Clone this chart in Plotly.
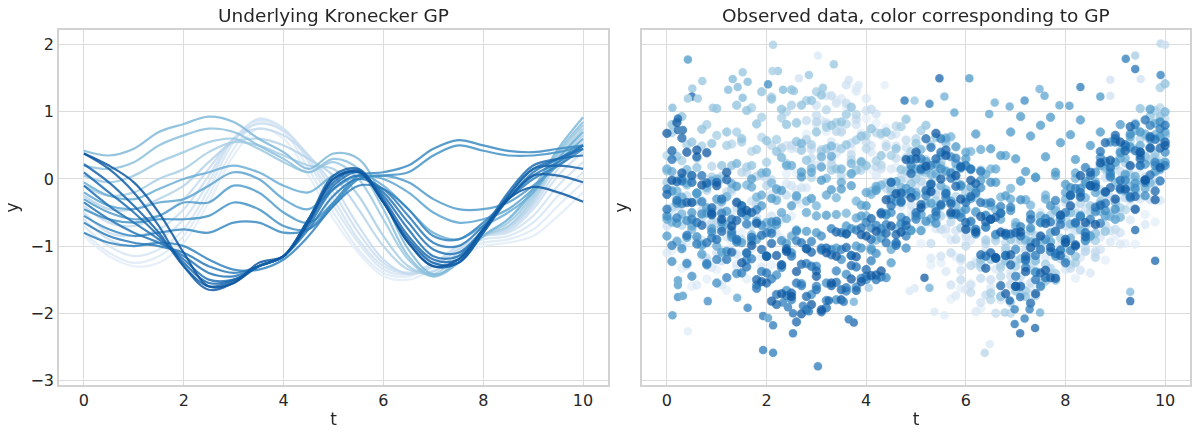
import plotly.graph_objects as go
from plotly.colors import make_colorscale, sample_colorscale, sequential

# ---------------- data ----------------
t_knots = [0.0, 0.5, 1.0, 1.5, 2.0, 2.5, 3.0, 3.5, 4.0, 4.5, 5.0,
           5.5, 6.0, 6.5, 7.0, 7.5, 8.0, 8.5, 9.0, 9.5, 10.0]

c00 = [-0.85,-1.15,-1.3,-1.25,-0.95,-0.35,0.35,0.75,0.6,0.05,-0.6,-1.1,-1.45,-1.5,-1.35,-1.15,-1.0,-0.95,-0.85,-0.55,-0.2]
c01 = [-0.8,-1.1,-1.25,-1.15,-0.85,-0.25,0.45,0.85,0.7,0.15,-0.5,-1.05,-1.4,-1.45,-1.3,-1.1,-0.95,-0.9,-0.75,-0.4,-0.05]
c02 = [-0.7,-1.0,-1.15,-1.05,-0.75,-0.15,0.55,0.9,0.75,0.25,-0.4,-0.95,-1.35,-1.42,-1.25,-1.05,-0.9,-0.85,-0.65,-0.25,0.1]
c03 = [-0.6,-0.9,-1.0,-0.9,-0.6,-0.05,0.6,0.88,0.75,0.3,-0.3,-0.9,-1.3,-1.4,-1.25,-1.0,-0.85,-0.8,-0.55,-0.1,0.25]
c04 = [-0.5,-0.8,-0.85,-0.75,-0.45,0.05,0.6,0.82,0.72,0.35,-0.2,-0.8,-1.25,-1.4,-1.28,-1.0,-0.85,-0.78,-0.45,0.05,0.4]
c05 = [-0.4,-0.65,-0.7,-0.55,-0.3,0.15,0.6,0.75,0.65,0.35,-0.1,-0.7,-1.2,-1.42,-1.3,-1.05,-0.85,-0.75,-0.4,0.15,0.55]
c06 = [-0.25,-0.45,-0.45,-0.3,-0.1,0.25,0.55,0.6,0.5,0.3,0.05,-0.45,-1.0,-1.35,-1.38,-1.1,-0.85,-0.72,-0.35,0.25,0.65]
c07 = [-0.1,-0.25,-0.2,0.0,0.15,0.4,0.55,0.5,0.35,0.2,0.15,-0.25,-0.85,-1.3,-1.42,-1.15,-0.85,-0.7,-0.3,0.3,0.75]
c08 = [0.05,-0.05,0.05,0.25,0.4,0.55,0.6,0.45,0.25,0.1,0.25,0.0,-0.6,-1.2,-1.45,-1.2,-0.85,-0.65,-0.25,0.35,0.8]
c09 = [0.2,0.15,0.25,0.5,0.65,0.75,0.7,0.5,0.3,0.1,0.3,0.15,-0.45,-1.15,-1.45,-1.25,-0.85,-0.6,-0.2,0.4,0.85]
c10 = [0.42,0.35,0.45,0.7,0.82,0.93,0.85,0.6,0.4,0.15,0.38,0.3,-0.3,-1.05,-1.42,-1.25,-0.85,-0.6,-0.15,0.45,0.92]
c11 = [-0.05,-0.25,-0.3,-0.15,0.0,0.1,0.2,0.1,-0.1,-0.2,0.05,0.1,-0.1,-0.45,-0.8,-0.9,-0.7,-0.5,-0.2,0.3,0.7]
c12 = [-0.2,-0.4,-0.45,-0.35,-0.3,-0.1,0.1,0.0,-0.3,-0.45,-0.15,0.05,0.0,-0.2,-0.5,-0.65,-0.6,-0.45,-0.15,0.25,0.6]
c13 = [-0.3,-0.5,-0.6,-0.55,-0.35,-0.35,-0.1,-0.2,-0.5,-0.65,-0.35,0.0,0.05,-0.05,-0.3,-0.45,-0.45,-0.35,-0.1,0.2,0.5]
c14 = [-0.45,-0.6,-0.65,-0.6,-0.6,-0.55,-0.35,-0.45,-0.7,-0.75,-0.4,0.0,0.05,0.1,0.35,0.5,0.42,0.35,0.35,0.4,0.5]
c15 = [-0.55,-0.75,-0.85,-0.8,-0.75,-0.8,-0.65,-0.65,-0.8,-0.75,-0.35,0.05,0.1,0.2,0.45,0.58,0.5,0.42,0.4,0.45,0.5]
c16 = [-0.8,-0.95,-1.0,-0.95,-1.0,-1.2,-1.35,-1.35,-1.2,-0.85,-0.4,-0.1,-0.15,-0.45,-0.85,-0.9,-0.65,-0.3,0.0,0.2,0.45]
c17 = [-0.65,-0.85,-0.95,-1.0,-1.1,-1.3,-1.4,-1.3,-1.15,-0.75,-0.25,0.0,-0.15,-0.55,-0.95,-1.0,-0.7,-0.3,0.05,0.25,0.5]
c18 = [-0.35,-0.6,-0.8,-0.95,-1.15,-1.4,-1.45,-1.3,-1.15,-0.7,-0.15,0.05,-0.2,-0.65,-1.05,-1.1,-0.75,-0.3,0.1,0.3,0.5]
c19 = [-0.1,-0.4,-0.65,-0.9,-1.2,-1.5,-1.5,-1.3,-1.15,-0.65,-0.1,0.1,-0.25,-0.75,-1.15,-1.15,-0.75,-0.25,0.15,0.3,0.45]
c20 = [0.1,-0.2,-0.5,-0.85,-1.25,-1.55,-1.5,-1.3,-1.15,-0.6,-0.05,0.12,-0.3,-0.85,-1.2,-1.2,-0.75,-0.2,0.2,0.3,0.35]
c21 = [0.22,-0.05,-0.4,-0.8,-1.3,-1.6,-1.52,-1.3,-1.15,-0.6,0.0,0.12,-0.35,-0.9,-1.25,-1.25,-0.8,-0.25,0.15,0.2,0.15]
c22 = [0.38,0.15,-0.2,-0.7,-1.3,-1.65,-1.55,-1.3,-1.15,-0.6,0.05,0.15,-0.35,-0.95,-1.3,-1.25,-0.8,-0.3,0.05,0.05,-0.05]
c23 = [0.38,0.2,-0.05,-0.5,-1.1,-1.6,-1.55,-1.25,-1.15,-0.65,0.0,0.1,-0.35,-0.95,-1.3,-1.2,-0.75,-0.3,-0.12,-0.2,-0.34]

line_shades = [0.10,0.13,0.16,0.19,0.22,0.25,0.30,0.34,0.38,0.42,0.45,0.50,
               0.54,0.58,0.62,0.65,0.68,0.71,0.73,0.75,0.77,0.80,0.82,0.85]

t_obs = [0.0,0.1,0.2,0.3,0.4,0.5,0.6,0.7,0.8,0.9,1.0,1.1,1.2,1.3,1.4,1.5,1.6,1.7,1.8,1.9,
         2.0,2.1,2.2,2.3,2.4,2.5,2.6,2.7,2.8,2.9,3.0,3.1,3.2,3.3,3.4,3.5,3.6,3.7,3.8,3.9,
         4.0,4.1,4.2,4.3,4.4,4.5,4.6,4.7,4.8,4.9,5.0,5.1,5.2,5.3,5.4,5.5,5.6,5.7,5.8,5.9,
         6.0,6.1,6.2,6.3,6.4,6.5,6.6,6.7,6.8,6.9,7.0,7.1,7.2,7.3,7.4,7.5,7.6,7.7,7.8,7.9,
         8.0,8.1,8.2,8.3,8.4,8.5,8.6,8.7,8.8,8.9,9.0,9.1,9.2,9.3,9.4,9.5,9.6,9.7,9.8,9.9,10.0]

obs_a = [-0.5,-1.06,-0.47,-1.33,-0.94,-1.6,-0.93,-1.16,-1.49,-0.82,
         -1.35,-0.68,-1.66,-0.94,-1.32,-0.8,-1.49,-0.98,-0.37,-1.16,
         -0.7,-1.28,-0.31,-0.54,0.08,-0.55,0.09,-0.37,0.67,0.21,
         0.8,0.28,0.71,0.19,1.17,0.7,1.07,0.44,1.36,0.68,
         0.9,0.14,0.83,0.17,0.76,-0.15,0.17,-0.66,0.06,-0.47,
         -0.1,-0.96,-0.67,-1.28,-0.39,-1.25,-0.82,-1.79,-1.16,-1.63,
         -0.95,-1.56,-1.22,-1.93,-1.09,-1.5,-0.92,-1.74,-1.21,-1.58,
         -1.0,-1.71,-1.17,-0.63,-1.34,-0.85,-1.47,-0.94,-1.11,-0.53,
         -1.25,-0.74,-1.48,-0.57,-1.06,-0.4,-1.12,-0.79,-1.21,-0.48,
         -0.85,-0.28,-0.96,-0.39,-0.97,0.15,-0.53,-0.01,-0.64,-0.02,
         0.25]
obs_j = [-1.1,-0.56,-0.32,-0.98,-1.24,-0.65,-1.58,-0.91,-0.69,-1.32,
         -0.9,-1.58,-1.06,-0.54,-1.27,-1.4,-0.69,-1.03,-0.42,-1.31,
         -0.65,-0.23,-0.81,-0.89,-0.07,0.45,-0.16,0.48,-0.13,0.46,
         0.2,0.87,1.24,0.56,0.38,1.2,0.97,0.54,1.31,0.63,
         1.2,0.4,0.05,0.65,0.7,0.15,0.67,-0.41,0.01,-0.57,
         -0.1,-0.71,-0.12,-1.18,-0.74,-0.55,-1.38,-0.91,-1.74,-1.22,
         -1.65,-0.91,-1.98,-1.24,-1.06,-1.62,-1.34,-1.8,-0.82,-1.38,
         -0.85,-1.56,-1.07,-1.63,-0.84,-0.5,-1.17,-1.39,-0.66,-0.98,
         -1.35,-0.69,-0.43,-1.17,-0.81,-1.4,-0.46,-0.87,-0.23,-0.94,
         -0.5,-0.97,0.06,-0.61,-0.03,-0.3,-0.68,0.29,0.06,-0.32,
         0.55]
obs_b = [-0.7,-0.16,-0.92,-0.58,-1.29,-0.55,-0.91,-0.32,-1.23,-0.69,
         -1.1,-0.48,-0.86,-0.19,-1.12,-0.55,-1.19,-0.33,-0.57,-0.81,
         0.0,-0.55,-0.15,-0.6,0.5,-0.1,0.46,-0.13,0.58,0.44,
         1.1,0.34,0.84,0.28,1.13,0.72,1.4,0.53,0.81,0.24,
         1.02,0.5,0.97,0.15,0.52,-0.2,0.49,0.03,0.47,-0.39,
         0.0,-0.77,-0.09,-0.61,-0.18,-1.15,-0.74,-1.58,-0.77,-1.36,
         -0.85,-1.58,-1.26,-1.84,-1.12,-1.5,-0.83,-1.75,-1.13,-1.45,
         -0.93,-1.72,-1.07,-1.36,-0.61,-1.05,-0.67,-1.39,-0.76,-1.18,
         -0.35,-1.04,-0.77,-1.36,-0.44,-0.88,-0.46,-1.05,0.02,-0.77,
         -0.35,-0.8,0.05,-0.3,0.45,-0.25,0.32,-0.31,0.61,0.28,
         0.65]
obs_m = [0.15,-0.65,-0.4,-1.0,-0.25,-0.05,-0.96,-0.47,-1.18,-0.64,
         -0.4,-1.22,-0.19,-0.71,-0.43,-0.9,0.1,-0.7,-0.35,0.05,
         -0.7,-0.01,-0.27,0.47,-0.24,0.5,-0.31,0.43,0.87,0.31,
         0.95,0.18,0.81,1.24,0.47,0.7,1.13,0.36,0.89,0.17,
         0.55,1.04,0.18,0.67,-0.14,0.65,0.31,-0.23,0.58,-0.21,
         0.35,-0.52,-0.19,-0.96,-0.23,-0.75,-0.25,-1.1,-0.9,-1.5,
         -1.0,-1.69,-0.79,-1.48,-1.73,-1.12,-2.0,-1.27,-0.95,-1.57,
         -0.8,-1.45,-0.95,-1.55,-1.05,-1.6,-0.66,-1.07,-0.48,-1.19,
         -0.7,-1.33,-0.51,-0.24,-1.02,-0.65,-1.08,-0.16,-0.69,-0.27,
         -0.75,0.11,-0.28,0.18,-0.46,0.7,0.03,0.61,-0.06,0.57,
         0.9]
obs_c = [0.35,-0.43,-0.01,-0.69,0.08,-0.35,0.31,-0.58,-0.17,0.19,
         -0.65,0.04,-0.27,0.52,-0.34,0.1,-0.52,0.41,0.04,0.62,
         -0.1,0.5,-0.15,0.45,1.0,0.2,0.83,0.11,0.59,0.02,
         0.85,0.44,1.03,0.22,0.71,0.05,0.82,0.29,0.96,0.13,
         0.45,-0.18,0.69,0.21,0.48,-0.2,0.79,-0.02,0.32,-0.19,
         0.6,-0.03,0.29,-0.64,0.03,-0.55,0.13,-0.64,-0.26,-1.18,
         -0.75,-1.29,-0.48,-1.32,-0.96,-1.8,-0.92,-1.45,-1.07,-2.0,
         -1.22,-1.62,-0.86,-1.31,-0.85,-1.55,-0.94,-1.33,-0.42,-1.06,
         -0.6,-1.27,-0.69,-0.36,-1.08,-0.5,-1.17,-0.24,-0.56,0.07,
         -0.6,-0.03,-0.46,0.56,-0.02,0.6,-0.06,0.58,0.32,1.06,
         0.65]
obs_k = [-0.05,0.69,-0.27,0.27,0.51,0.05,-0.33,0.49,0.81,0.03,
         0.65,0.0,0.5,-0.15,0.7,0.55,0.18,1.06,0.44,0.92,
         0.25,1.22,0.59,0.91,0.23,1.1,0.84,0.43,1.17,0.51,
         1.3,0.41,0.77,0.13,0.84,0.45,0.96,0.07,0.58,0.24,
         0.65,-0.19,0.27,0.68,-0.06,0.35,-0.21,0.78,0.12,0.41,
         0.0,0.72,0.09,0.51,-0.32,0.25,0.58,-0.34,-0.01,-0.73,
         -0.2,-0.74,-0.28,-1.27,-0.91,-1.7,-0.86,-1.32,-1.03,-1.84,
         -1.3,-0.91,-1.67,-1.13,-1.74,-0.9,-1.27,-0.54,-1.41,-0.88,
         -1.2,-0.5,-1.25,-0.25,-0.7,-0.4,-0.92,-0.34,0.14,-0.53,
         0.2,-0.43,0.24,0.06,0.83,-0.05,0.64,0.28,1.02,1.36,
         0.65]
obs_d = [0.12,0.81,0.34,0.93,-0.09,0.55,0.17,0.74,-0.09,0.53,
         1.05,0.2,0.7,0.2,1.1,0.6,1.02,0.2,0.82,1.3,
         0.57,1.19,0.41,1.04,0.81,1.33,0.56,1.1,0.28,1.17,
         0.7,1.25,0.45,0.8,0.15,0.85,0.51,1.07,0.13,0.64,
         0.2,0.75,-0.15,0.35,0.7,-0.15,0.45,0.14,0.89,-0.07,
         0.53,0.11,0.8,-0.17,0.62,0.2,0.53,-0.34,0.14,-0.48,
         0.2,-0.65,-0.5,-1.2,-0.55,-1.2,-0.82,-1.75,-1.22,-0.9,
         -1.67,-1.19,-1.75,-0.77,-1.38,-0.95,-1.52,-0.94,-1.51,-0.53,
         -0.9,-0.5,-1.15,-0.55,-0.9,-0.1,-0.81,-0.37,-0.78,0.11,
         -0.35,0.42,-0.01,0.46,-0.17,1.05,0.34,0.94,0.38,0.93,
         1.42]
obs_e = [0.15,-0.64,-0.18,-0.52,0.14,-0.75,-0.21,-0.97,-0.13,-0.54,
         0.0,-0.73,-0.26,-0.84,0.23,-0.5,-0.09,-0.83,-0.27,0.09,
         -0.65,-0.06,-0.32,0.32,-0.59,0.2,-0.26,0.53,-0.33,0.16,
         -0.4,0.33,0.01,0.49,-0.28,0.15,-0.51,0.23,-0.33,0.26,
         -0.55,-0.23,-0.91,-0.09,-0.52,-0.05,-0.74,-0.13,-0.77,0.14,
         -0.2,0.44,-0.37,0.07,-0.44,0.35,-0.16,0.63,-0.38,0.16,
         -0.3,0.41,-0.18,0.13,-0.71,0.15,-0.46,-0.27,-0.83,-0.14,
         -0.65,-0.03,-0.91,-0.39,-1.22,-0.55,-0.24,-0.93,-0.47,-1.06,
         -0.3,-0.67,0.01,-0.76,-0.28,-0.85,-0.04,-0.48,0.18,-0.56,
         -0.05,-0.57,0.31,-0.11,0.72,0.2,0.67,-0.06,0.66,0.23,
         1.0]
obs_n = [-0.6,0.11,-0.93,-0.27,-0.06,-0.7,-0.22,-0.99,-0.51,-0.03,
         -1.0,-0.34,-0.68,-0.07,-0.91,-0.45,-1.11,-0.12,-0.63,-0.24,
         0.1,-0.75,-0.15,-0.5,0.2,-0.85,-0.25,0.1,-0.5,0.1,
         -0.55,0.18,-0.24,0.34,-0.53,-0.05,-0.81,0.08,-0.58,-0.39,
         -0.2,-1.03,-0.11,-0.79,-0.52,-1.05,-0.04,-0.68,-0.22,-0.76,
         0.15,-0.53,0.14,-0.59,0.08,-0.1,0.61,-0.33,0.23,-0.51,
         0.4,-0.12,-0.49,0.44,0.07,-0.4,0.15,-0.6,0.35,-0.3,
         -0.7,-0.03,-0.31,-0.94,0.03,-0.65,-0.3,-0.8,0.05,-0.55,
         -0.2,-0.88,0.09,-0.54,-0.07,-0.85,-0.2,0.2,-0.55,0.05,
         -0.6,0.31,-0.18,0.63,0.04,0.5,-0.14,0.47,0.83,0.14,
         0.7]
obs_f = [-0.85,-0.18,-0.66,0.01,-0.87,-0.5,-0.21,-1.12,-0.43,-0.74,
         -0.3,-1.09,-0.48,-0.87,-0.11,-0.95,-0.55,0.0,-0.9,-0.4,
         -1.15,-0.29,-0.68,-0.17,-0.96,-0.4,-0.76,0.03,-0.78,-0.29,
         -0.8,-0.02,-0.54,-0.16,-1.03,-0.15,-0.7,-0.1,-1.0,-0.55,
         -0.4,-1.06,-0.17,-0.88,-0.54,-1.25,-0.33,-0.66,-0.14,-0.77,
         -0.25,-0.77,0.26,-0.36,0.22,-0.4,0.11,-0.53,0.48,-0.11,
         0.3,-0.29,0.67,-0.02,-0.36,0.45,-0.05,0.35,-0.25,0.7,
         0.3,0.93,0.11,0.64,0.02,0.8,0.33,0.92,0.1,0.54,
         -0.08,0.66,0.29,0.88,-0.04,0.5,0.1,0.7,-0.2,0.55,
         0.25,0.81,0.07,0.48,-0.06,0.7,0.22,1.04,0.11,0.63,
         0.25]
obs_g = [-0.55,-1.23,-0.36,-1.04,-0.62,-1.45,-0.86,-0.52,-1.28,-0.79,
         -1.55,-0.64,-1.08,-0.82,-1.41,-0.4,-1.21,-0.92,-1.58,-0.69,
         -1.15,-0.64,-1.43,-0.92,-1.66,-1.1,-0.78,-1.56,-1.04,-1.72,
         -1.3,-0.85,-1.55,-1.05,-1.8,-1.2,-1.42,-0.74,-1.61,-1.03,
         -1.5,-0.73,-1.11,-0.74,-1.47,-0.5,-0.96,-0.57,-1.03,-0.19,
         -0.55,0.16,-0.63,-0.07,-0.66,0.15,-0.21,0.33,-0.53,-0.09,
         -0.45,0.14,-0.82,-0.13,-0.54,-0.05,-0.83,-0.51,-1.14,-0.47,
         -1.05,-0.31,-1.22,-0.73,-1.39,-0.65,-0.9,-0.4,-1.15,-0.6,
         -0.95,-0.13,-0.66,-0.14,-0.92,-0.1,-0.49,0.32,-0.47,0.09,
         -0.45,0.39,-0.02,0.67,-0.14,0.4,-0.25,0.6,0.2,0.85,
         0.4]
obs_l = [-0.15,-0.99,-0.58,-0.37,-1.26,-0.6,-0.97,-0.34,-1.26,-0.88,
         -1.2,-0.51,-1.47,-0.78,-0.94,-1.4,-0.67,-1.19,-0.46,-1.38,
         -0.8,-1.49,-0.63,-1.32,-1.06,-1.8,-0.92,-1.59,-1.26,-0.93,
         -1.6,-1.03,-1.81,-0.74,-1.37,-1.05,-1.67,-1.14,-0.76,-1.48,
         -0.65,-1.22,-0.69,-1.46,-0.68,-0.3,-0.95,-0.35,-0.85,0.2,
         -0.6,0.3,-0.25,0.2,-0.55,0.6,-0.28,0.09,0.31,-0.57,
         0.2,-0.63,-0.21,0.11,-0.72,-0.35,-1.18,-0.41,-0.84,-0.42,
         -1.45,-0.71,-1.32,-0.53,-1.14,-1.6,-0.59,-1.08,-0.32,-1.06,
         -0.5,-1.07,-0.14,-0.56,0.17,-0.6,-0.08,-0.66,0.26,0.03,
         0.55,-0.16,0.48,-0.28,0.81,0.35,-0.05,0.8,0.25,0.75,
         0.2]
obs_h = [-0.45,0.29,-0.32,-0.03,-0.84,-0.05,-0.65,0.05,-0.95,-0.5,
         -0.9,-0.3,-1.2,-0.6,-0.9,-0.4,-1.31,-0.87,-1.63,-0.84,
         -1.4,-0.81,-1.72,-1.28,-1.74,-1.15,-1.55,-0.95,-1.95,-1.3,
         -1.65,-1.06,-1.92,-1.13,-1.54,-0.8,-1.62,-1.14,-1.31,-0.73,
         -1.45,-0.9,-1.5,-0.5,-0.95,-0.4,-0.99,-0.33,-0.62,0.29,
         -0.5,0.14,-0.17,0.47,-0.49,0.4,-0.22,0.01,-0.51,0.17,
         -0.35,0.15,-0.75,-0.35,-1.15,-0.6,-1.18,-0.51,-1.14,-0.82,
         -1.6,-0.85,-1.2,-0.6,-1.5,-1.05,-1.47,-0.64,-1.11,-0.68,
         -1.25,-0.25,-0.65,-0.2,-0.8,0.05,-0.42,0.41,-0.36,0.17,
         0.6,-0.02,0.51,-0.26,0.42,0.2,0.88,0.06,0.59,-0.03,
         0.8]
obs_o = [-0.23,0.42,-0.04,0.61,-0.35,0.05,0.33,-0.69,-0.06,-0.43,
         -0.05,-0.78,-0.01,-1.09,-0.62,-0.5,-1.1,-0.5,-1.5,-1.05,
         -1.55,-0.96,-1.87,-1.28,-1.04,-1.7,-2.13,-1.27,-1.75,-1.09,
         -1.37,-1.98,-1.03,-1.59,-0.79,-1.65,-1.02,-1.29,-1.66,-0.83,
         -1.35,-0.59,-1.43,-0.52,-0.81,-0.05,-0.83,-0.21,-0.69,0.08,
         0.3,-0.38,0.6,-0.08,0.3,-0.38,0.43,-0.37,-0.11,0.19,
         -0.65,-0.26,-0.07,-1.13,-0.64,-1.1,-0.57,-1.59,-0.81,-1.28,
         -0.8,-1.6,-1.15,-1.85,-0.95,-1.4,-0.66,-1.47,-0.78,-1.14,
         -0.9,-0.24,-0.98,-0.27,-0.86,0.1,-0.12,-0.39,0.54,-0.13,
         0.65,-0.14,0.42,0.78,-0.26,0.3,-0.01,0.63,-0.18,0.46,
         0.55]
obs_i = [0.68,-0.02,0.84,0.09,0.4,-0.35,0.43,-0.09,0.39,-0.53,
         -0.1,-0.6,0.1,-0.7,-0.35,-1.25,-0.47,-0.99,-0.66,-1.53,
         -1.15,-1.82,-1.14,-1.71,-1.08,-1.75,-1.38,-2.01,-1.04,-1.87,
         -1.45,-1.95,-1.1,-1.55,-1.15,-1.8,-0.82,-1.49,-1.16,-1.53,
         -0.85,-1.44,-0.78,-1.37,-0.31,-0.7,-0.22,-0.79,0.29,-0.28,
         0.4,-0.43,0.19,-0.19,0.68,0.0,0.35,-0.5,0.05,-0.3,
         -0.75,-0.02,-0.79,-0.56,-1.33,-0.6,-1.17,-0.79,-1.71,-1.13,
         -1.6,-0.79,-1.38,-1.02,-1.71,-0.85,-1.36,-1.02,-1.48,-0.54,
         -0.95,-0.4,-1.0,0.05,-0.65,-0.1,-0.68,0.24,-0.19,0.28,
         -0.3,0.55,-0.15,0.2,-0.45,0.4,-0.02,0.46,-0.31,0.17,
         0.5]
obs_shades = [0.10, 0.15, 0.20, 0.26, 0.30, 0.36, 0.42, 0.48, 0.54, 0.60,
              0.65, 0.70, 0.75, 0.80, 0.85]

# individually read points (outliers and envelope)
extra_t = [0.42,2.13,3.03,3.35,2.12,2.23,1.52,0.71,0.51,1.32,1.62,2.03,0.5,0.42,0.62,0.11,0.92,
           1.23,1.42,1.52,2.65,2.85,3.65,3.85,4.37,2.33,2.55,3.13,4.77,4.97,0.22,0.22,0.32,
           9.91,10.0,9.21,9.4,9.4,9.51,8.9,8.9,9.91,5.47,6.07,5.57,5.27,5.77,6.47,6.58,6.88,
           7.18,7.48,7.58,7.88,8.08,8.3,8.7,
           0.11,0.42,1.93,2.03,2.13,2.53,1.93,2.13,3.03,3.65,3.75,1.62,0.82,1.41,0.22,0.32,
           2.33,2.43,2.53,2.73,2.85,3.25,3.55,3.75,4.05,4.87,4.97,0.22,0.22,
           6.38,6.48,7.09,6.98,7.18,7.39,6.98,7.28,7.49,6.88,7.09,6.78,5.37,5.57,9.3,9.3,
           5.17,5.27,9.8,9.4]
extra_y = [1.78,2.0,1.84,1.71,1.61,1.61,1.59,1.46,1.35,1.49,1.45,1.41,1.23,1.2,1.2,1.06,1.06,
           1.33,1.37,1.21,1.5,1.55,1.48,1.4,1.4,1.33,1.31,1.36,1.17,1.17,0.9,0.73,0.73,
           2.02,2.0,1.79,1.84,1.64,1.49,1.48,1.24,1.55,1.5,1.5,1.23,1.12,0.99,0.97,1.14,1.08,
           1.17,1.34,1.24,1.1,1.09,1.37,1.23,
           -2.03,-2.27,-2.04,-2.07,-2.18,-2.3,-2.55,-2.59,-2.79,-2.09,-2.14,-1.92,-1.82,-1.77,-1.76,-1.74,
           -1.84,-1.91,-2.0,-1.89,-1.97,-1.81,-1.83,-1.83,-1.62,-1.67,-1.63,-1.51,-1.58,
           -2.59,-2.46,-2.3,-2.16,-2.08,-2.22,-1.94,-1.94,-1.99,-1.81,-1.76,-1.99,-1.98,-2.03,-1.68,-1.82,
           -1.47,-1.62,-1.22,-0.76]
extra_shade = [0.6,0.35,0.15,0.4,0.35,0.4,0.4,0.4,0.4,0.45,0.45,0.65,0.8,0.4,0.4,0.45,0.4,
               0.45,0.45,0.45,0.2,0.4,0.2,0.15,0.1,0.45,0.4,0.4,0.75,0.4,0.8,0.8,0.8,
               0.3,0.25,0.72,0.35,0.75,0.2,0.2,0.2,0.7,0.8,0.6,0.5,0.7,0.55,0.55,0.5,0.55,
               0.65,0.5,0.55,0.55,0.6,0.72,0.6,
               0.6,0.12,0.72,0.6,0.72,0.75,0.72,0.72,0.72,0.75,0.8,0.7,0.65,0.55,0.65,0.6,
               0.7,0.72,0.75,0.72,0.72,0.8,0.72,0.5,0.35,0.15,0.15,0.6,0.6,
               0.3,0.15,0.8,0.75,0.72,0.8,0.7,0.7,0.5,0.8,0.75,0.35,0.15,0.12,0.45,0.8,
               0.84,0.5,0.8,0.8]

x_ticks = [0, 2, 4, 6, 8, 10]
y_ticks = [-3, -2, -1, 0, 1, 2]
y_tick_text = ["\u22123", "\u22122", "\u22121", "0", "1", "2"]

# ---------------- figure ----------------
BLUES = make_colorscale(sequential.Blues)
curves = [c00, c01, c02, c03, c04, c05, c06, c07, c08, c09, c10, c11,
          c12, c13, c14, c15, c16, c17, c18, c19, c20, c21, c22, c23]
obs_groups = [obs_a, obs_j, obs_b, obs_m, obs_c, obs_k, obs_d, obs_e, obs_n,
              obs_f, obs_g, obs_l, obs_h, obs_o, obs_i]

fig = go.Figure()
for shade, ys in zip(line_shades, curves):
    col = sample_colorscale(BLUES, [shade])[0]
    fig.add_trace(go.Scatter(
        x=t_knots, y=ys, mode="lines", xaxis="x", yaxis="y",
        line=dict(color=col, width=2.2, shape="spline", smoothing=1.0),
        opacity=0.85, showlegend=False, hoverinfo="skip"))

for shade, ys in zip(obs_shades, obs_groups):
    col = sample_colorscale(BLUES, [shade])[0]
    fig.add_trace(go.Scatter(
        x=t_obs, y=ys, mode="markers", xaxis="x2", yaxis="y2",
        marker=dict(color=col, size=8.5, line=dict(color=col, width=0.8)),
        opacity=0.75, showlegend=False, hoverinfo="skip"))

fig.add_trace(go.Scatter(
    x=extra_t, y=extra_y, mode="markers", xaxis="x2", yaxis="y2",
    marker=dict(color=extra_shade, colorscale=BLUES, cmin=0, cmax=1, size=8.5,
                line=dict(width=0)),
    opacity=0.75, showlegend=False, hoverinfo="skip"))

FONT = "DejaVu Sans"
TXT = "#262626"
GRID = "#dcdcdc"
FRAME = "#d2d2d2"

ax_common = dict(
    range=[-0.5, 10.5], tickvals=x_ticks, showgrid=True, gridcolor=GRID,
    gridwidth=1, zeroline=False, showline=True, mirror=True, linecolor=FRAME,
    linewidth=1.5, ticks="", automargin=False,
    tickfont=dict(size=16, color=TXT, family=FONT),
    title=dict(text="t", font=dict(size=17, color=TXT, family=FONT), standoff=4))
ay_common = dict(
    range=[-3.07, 2.22], tickvals=y_ticks, ticktext=y_tick_text, showgrid=True,
    gridcolor=GRID, gridwidth=1, zeroline=False, showline=True, mirror=True,
    linecolor=FRAME, linewidth=1.5, ticks="", automargin=False,
    tickfont=dict(size=16, color=TXT, family=FONT),
    title=dict(text="y", font=dict(size=17, color=TXT, family=FONT), standoff=8))

fig.update_layout(
    width=1200, height=435, autosize=False,
    margin=dict(l=59, r=10, t=30, b=50),
    paper_bgcolor="white", plot_bgcolor="white",
    font=dict(family=FONT, color=TXT),
    xaxis=dict(domain=[0.0, 0.4854], anchor="y", **ax_common),
    xaxis2=dict(domain=[0.5155, 1.0], anchor="y2", **ax_common),
    yaxis=dict(domain=[0.0, 1.0], anchor="x", **ay_common),
    yaxis2=dict(domain=[0.0, 1.0], anchor="x2", matches="y", showticklabels=False,
                **{k: v for k, v in ay_common.items() if k not in ("tickfont",)}),
    annotations=[
        dict(text="Underlying Kronecker GP", x=0.2427, y=1.0, xref="paper", yref="paper",
             xanchor="center", yanchor="bottom", yshift=2, showarrow=False,
             font=dict(size=18.5, color=TXT, family=FONT)),
        dict(text="Observed data, color corresponding to GP", x=0.7578, y=1.0,
             xref="paper", yref="paper", xanchor="center", yanchor="bottom", yshift=2,
             showarrow=False, font=dict(size=18.5, color=TXT, family=FONT)),
    ],
)

# remove the default 8 px page margin so the figure fills the 1200x435 window exactly
fig.write_html("out.html", config={"displayModeBar": False},
               post_script="document.body.style.margin='0px';document.body.style.overflow='hidden';")
